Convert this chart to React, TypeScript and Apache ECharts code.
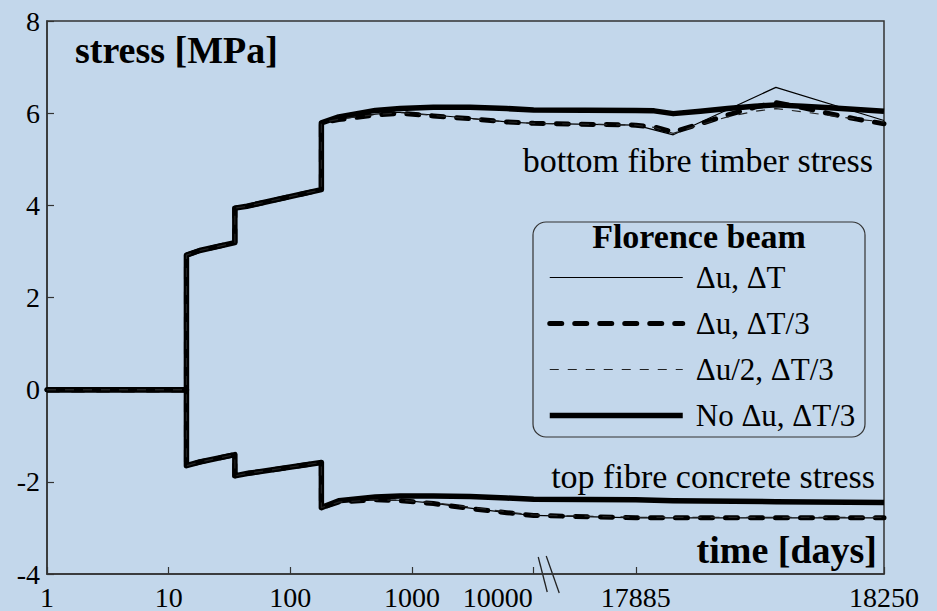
import React, { useEffect, useRef } from 'react';
import * as echarts from 'echarts';

// Construction stages (days) shared by every analysis
const STAGE_DAYS = [1, 14, 14, 18, 35, 35, 44, 180, 180];
const STAGE_TIMBER = [0, 0, 2.92, 3.02, 3.19, 3.94, 3.98, 4.34, 5.79];
const STAGE_CONCRETE = [0, 0, -1.65, -1.57, -1.41, -1.87, -1.82, -1.58, -2.56];

// Long-term readings on the logarithmic part of the time axis
const LONG_DAYS = [250, 500, 800, 1500, 3000, 6000, 10000];
// Last year of service life on the linear part of the time axis
const YEAR_DAYS = [17885, 17912, 17940, 17980, 18020, 18060, 18091, 18130, 18170, 18210, 18250];
const YEAR_DAYS_COARSE = [17885, 17940, 18091, 18250];

// Δu, ΔT
const TIMBER_LONG_DU_DT = [5.87, 5.98, 6.02, 5.96, 5.89, 5.81, 5.78];
const TIMBER_YEAR_DU_DT = [5.74, 5.53, 6.56, 5.84];
const CONCRETE_LONG_DU_DT = [-2.44, -2.39, -2.4, -2.46, -2.57, -2.67, -2.73];
const CONCRETE_YEAR_DU_DT = [-2.78, -2.78, -2.78, -2.78];

// Δu, ΔT/3
const TIMBER_LONG_DU_DT3 = [5.86, 5.96, 6.0, 5.94, 5.88, 5.81, 5.78];
const TIMBER_YEAR_DU_DT3 = [5.74, 5.7, 5.59, 5.77, 5.96, 6.13, 6.23, 6.12, 5.99, 5.87, 5.77];
const CONCRETE_LONG_DU_DT3 = [-2.44, -2.39, -2.41, -2.47, -2.58, -2.67, -2.73];
const CONCRETE_YEAR_DU_DT3 = [-2.78, -2.78, -2.78, -2.78];

// Δu/2, ΔT/3
const TIMBER_LONG_DU2_DT3 = [5.87, 5.97, 6.01, 5.95, 5.88, 5.81, 5.78];
const TIMBER_YEAR_DU2_DT3 = [5.74, 5.69, 5.56, 5.75, 5.92, 6.04, 6.1, 6.03, 5.95, 5.87, 5.81];
const CONCRETE_LONG_DU2_DT3 = [-2.44, -2.39, -2.4, -2.45, -2.55, -2.65, -2.72];
const CONCRETE_YEAR_DU2_DT3 = [-2.77, -2.77, -2.77, -2.77];

// No Δu, ΔT/3
const TIMBER_LONG_NODU_DT3 = [5.92, 6.06, 6.1, 6.13, 6.13, 6.1, 6.07];
const TIMBER_YEAR_NODU_DT3 = [6.06, 6.05, 5.99, 6.04, 6.1, 6.15, 6.18, 6.15, 6.12, 6.08, 6.04];
const CONCRETE_LONG_NODU_DT3 = [-2.41, -2.33, -2.31, -2.31, -2.32, -2.35, -2.38];
const CONCRETE_YEAR_NODU_DT3 = [-2.39, -2.41, -2.43, -2.45];

const TICK_DAYS = [1, 10, 100, 1000, 10000, 17885, 18250];
const STRESS_MIN = -4;
const STRESS_MAX = 8;
const STRESS_STEP = 2;

const FONT = 'Liberation Serif';
const BG = '#c3d7eb';
const FRAME = '#333333';

const W = 937;
const H = 611;
const GRID = { left: 47, top: 21, right: 53, bottom: 36 };

// Broken time axis: log10 up to 10^4, then a gap, then the last year on a linear scale
const LOG_END = 10000;
const YEAR_START = 17885;
const GAP_UNITS = 0.84;
const YEAR_UNITS = 2.04;
const BREAK_UNITS = 0.12;

const toAxis = (d: number) =>
  d <= LOG_END
    ? Math.log10(d)
    : Math.log10(LOG_END) + GAP_UNITS + ((d - YEAR_START) / 365) * YEAR_UNITS;

const X_MAX = toAxis(18250);

const pairs = (days: number[], vals: number[]) => days.map((d, i) => [toAxis(d), vals[i]]);

const curve = (stageVals: number[], longVals: number[], yearDays: number[], yearVals: number[]) => [
  ...pairs(STAGE_DAYS, stageVals),
  ...pairs(LONG_DAYS, longVals),
  ...pairs(yearDays, yearVals),
];

const THIN_SOLID = { color: '#000', width: 1.2, type: 'solid' as any, cap: 'butt' as any };
const THICK_DASHED = { color: '#000', width: 5, type: [12, 13] as any, cap: 'round' as any };
const THIN_DASHED = { color: '#222', width: 1.2, type: [9, 9] as any, cap: 'butt' as any };
const THICK_SOLID = { color: '#000', width: 5.5, type: 'solid' as any, cap: 'butt' as any };

const CASES = [
  {
    name: 'Δu, ΔT',
    line: THIN_SOLID,
    z: 3,
    timber: curve(STAGE_TIMBER, TIMBER_LONG_DU_DT, YEAR_DAYS_COARSE, TIMBER_YEAR_DU_DT),
    concrete: curve(STAGE_CONCRETE, CONCRETE_LONG_DU_DT, YEAR_DAYS_COARSE, CONCRETE_YEAR_DU_DT),
  },
  {
    name: 'Δu, ΔT/3',
    line: THICK_DASHED,
    z: 2,
    timber: curve(STAGE_TIMBER, TIMBER_LONG_DU_DT3, YEAR_DAYS, TIMBER_YEAR_DU_DT3),
    concrete: curve(STAGE_CONCRETE, CONCRETE_LONG_DU_DT3, YEAR_DAYS_COARSE, CONCRETE_YEAR_DU_DT3),
  },
  {
    name: 'Δu/2, ΔT/3',
    line: THIN_DASHED,
    z: 4,
    timber: curve(STAGE_TIMBER, TIMBER_LONG_DU2_DT3, YEAR_DAYS, TIMBER_YEAR_DU2_DT3),
    concrete: curve(STAGE_CONCRETE, CONCRETE_LONG_DU2_DT3, YEAR_DAYS_COARSE, CONCRETE_YEAR_DU2_DT3),
  },
  {
    name: 'No Δu, ΔT/3',
    line: THICK_SOLID,
    z: 1,
    timber: curve(STAGE_TIMBER, TIMBER_LONG_NODU_DT3, YEAR_DAYS, TIMBER_YEAR_NODU_DT3),
    concrete: curve(STAGE_CONCRETE, CONCRETE_LONG_NODU_DT3, YEAR_DAYS_COARSE, CONCRETE_YEAR_NODU_DT3),
  },
];

const tickLabel = (value: number) => {
  const day = TICK_DAYS.find((d) => Math.abs(toAxis(d) - value) < 1e-6);
  if (day === undefined) return '';
  return day === LOG_END ? `{shift|${day}}` : `${day}`;
};

export default function App() {
  const ref = useRef<HTMLDivElement>(null);

  useEffect(() => {
    if (!ref.current) return;
    const chart = echarts.init(ref.current, undefined, { renderer: 'svg' });

    const plotW = W - GRID.left - GRID.right;
    const plotBottom = H - GRID.bottom;
    const breakX = GRID.left + ((Math.log10(LOG_END) + BREAK_UNITS) / X_MAX) * plotW;

    const series: any[] = [];
    CASES.forEach((c) => {
      [c.timber, c.concrete].forEach((data) => {
        series.push({
          type: 'line',
          name: c.name,
          data,
          symbol: 'none',
          showSymbol: false,
          z: c.z,
          silent: true,
          color: '#000',
          itemStyle: { color: '#000' },
          lineStyle: { ...c.line, join: 'round' },
        });
      });
    });

    const textStyle = (text: string, font: string, align: string) => ({
      text,
      font,
      fill: '#000',
      textAlign: align,
      align,
      textVerticalAlign: 'middle',
      verticalAlign: 'middle',
    });

    chart.setOption({
      animation: false,
      backgroundColor: BG,
      textStyle: { fontFamily: FONT },
      grid: {
        ...GRID,
        show: true,
        borderColor: FRAME,
        borderWidth: 1.5,
        backgroundColor: 'transparent',
      },
      xAxis: {
        type: 'value',
        min: 0,
        max: X_MAX,
        axisLine: { show: true, onZero: false, lineStyle: { color: FRAME, width: 1.5 } },
        axisTick: {
          show: true,
          inside: true,
          length: 7,
          lineStyle: { color: FRAME, width: 1.2 },
          customValues: TICK_DAYS.map(toAxis),
        },
        splitLine: { show: false },
        axisLabel: {
          customValues: TICK_DAYS.map(toAxis),
          formatter: tickLabel,
          fontFamily: FONT,
          fontSize: 28,
          color: '#000',
          margin: 9,
          rich: {
            shift: { fontFamily: FONT, fontSize: 28, color: '#000', padding: [0, 72, 0, 0] },
          },
        },
      },
      yAxis: {
        type: 'value',
        min: STRESS_MIN,
        max: STRESS_MAX,
        interval: STRESS_STEP,
        axisLine: { show: true, onZero: false, lineStyle: { color: FRAME, width: 1.5 } },
        axisTick: { show: true, inside: true, length: 7, lineStyle: { color: FRAME, width: 1.2 } },
        splitLine: { show: false },
        axisLabel: { fontFamily: FONT, fontSize: 28, color: '#000', margin: 7 },
      },
      legend: {
        orient: 'vertical',
        left: 547,
        top: 262,
        padding: 0,
        itemWidth: 133,
        itemHeight: 30,
        itemGap: 15,
        selectedMode: false,
        itemStyle: { opacity: 0, borderWidth: 0 },
        data: CASES.map((c) => ({
          name: c.name,
          itemStyle: { opacity: 0, color: 'transparent', borderWidth: 0 },
          lineStyle: { color: c.line.color, width: c.line.width, type: c.line.type, cap: c.line.cap },
        })),
        textStyle: {
          fontFamily: FONT,
          fontSize: 31,
          lineHeight: 30,
          color: '#000',
          padding: [0, 0, 0, 8],
        },
      },
      graphic: [
        {
          type: 'rect',
          shape: { x: 533, y: 222, width: 332, height: 215, r: 13 },
          style: { fill: 'none', stroke: FRAME, lineWidth: 1.2 },
          silent: true,
        },
        { type: 'text', x: 699, y: 236.5, style: textStyle('Florence beam', `bold 34px ${FONT}`, 'center') },
        { type: 'text', x: 75, y: 50, style: textStyle('stress [MPa]', `bold 38px ${FONT}`, 'left') },
        { type: 'text', x: 877, y: 550, style: textStyle('time [days]', `bold 38px ${FONT}`, 'right') },
        {
          type: 'text',
          x: 873,
          y: 160.5,
          style: textStyle('bottom fibre timber stress', `34px ${FONT}`, 'right'),
        },
        {
          type: 'text',
          x: 875,
          y: 476.5,
          style: textStyle('top fibre concrete stress', `34px ${FONT}`, 'right'),
        },
        {
          type: 'line',
          shape: { x1: breakX - 10, y1: plotBottom - 18, x2: breakX - 1, y2: plotBottom + 17 },
          style: { stroke: '#222', lineWidth: 1.3 },
          silent: true,
        },
        {
          type: 'line',
          shape: { x1: breakX - 2, y1: plotBottom - 19, x2: breakX + 11, y2: plotBottom + 18 },
          style: { stroke: '#222', lineWidth: 1.3 },
          silent: true,
        },
      ],
      series,
    });

    return () => chart.dispose();
  }, []);

  return <div ref={ref} style={{ position: 'fixed', left: 0, top: 0, width: W, height: H }} />;
}
